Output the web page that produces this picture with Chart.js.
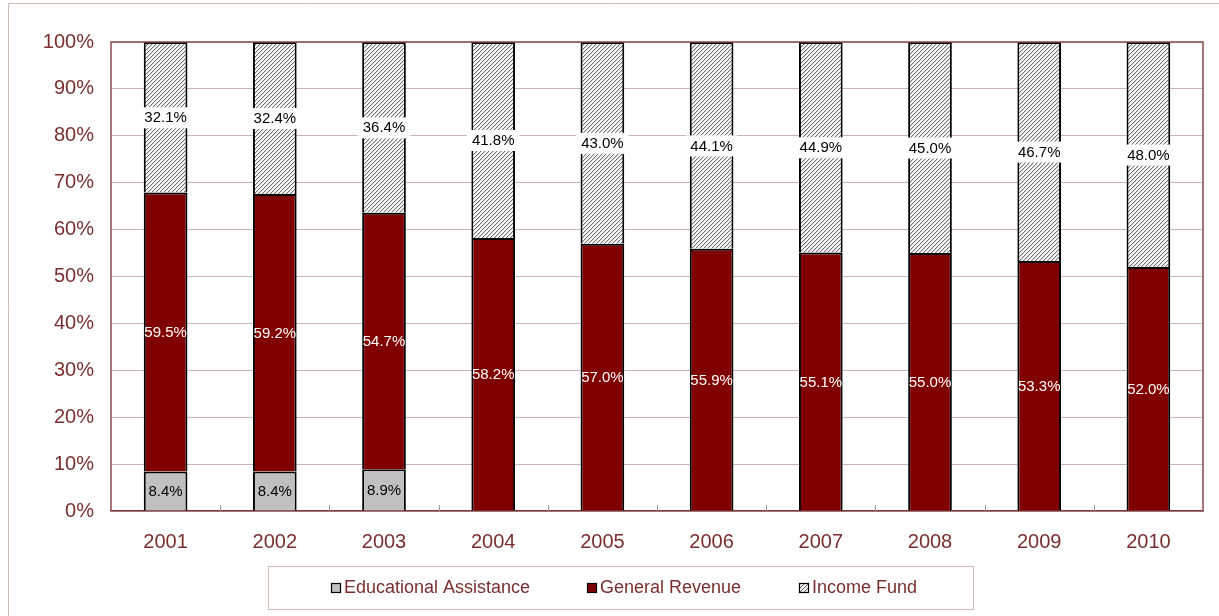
<!DOCTYPE html>
<html>
<head>
<meta charset="utf-8">
<script src="https://cdn.jsdelivr.net/npm/chart.js@4.4.1/dist/chart.umd.min.js"></script>
<style>
  html, body { margin: 0; padding: 0; background: #fff; }
  #wrap { width: 1219px; height: 616px; position: relative; }
</style>
</head>
<body>
<div id="wrap"><canvas id="share-chart" width="1219" height="616"></canvas></div>
<script>
// 数据
const years = ['2001', '2002', '2003', '2004', '2005', '2006', '2007', '2008', '2009', '2010'];
const educationalAssistance = [8.4, 8.4, 8.9, null, null, null, null, null, null, null];
const generalRevenue = [59.5, 59.2, 54.7, 58.2, 57.0, 55.9, 55.1, 55.0, 53.3, 52.0];
const incomeFund = [32.1, 32.4, 36.4, 41.8, 43.0, 44.1, 44.9, 45.0, 46.7, 48.0];
const yTicks = [0, 10, 20, 30, 40, 50, 60, 70, 80, 90, 100];

const axisColor = '#7a2e2e';
const gridColor = '#cbb3b3';
const fontFamily = '"Liberation Sans", Arial, sans-serif';

// 斜线填充图案
function makeHatch() {
    const c = document.createElement('canvas');
    c.width = 4;
    c.height = 4;
    const g = c.getContext('2d');
    g.fillStyle = '#ffffff';
    g.fillRect(0, 0, 4, 4);
    g.fillStyle = '#707070';
    for (let i = 0; i < 4; i++) {
        g.fillRect(i, 3 - i, 1, 1);
    }
    g.fillStyle = '#d4d4d4';
    for (let i = 0; i < 4; i++) {
        g.fillRect(i, (4 - i) % 4, 1, 1);
    }
    return g.createPattern(c, 'repeat');
}

const ctx = document.getElementById('share-chart').getContext('2d');
const hatch = makeHatch();

// 外框、绘图区边框
const framePlugin = {
    id: 'frame',
    beforeDraw(chart) {
        const c = chart.ctx;
        c.save();
        c.strokeStyle = '#d2bcbc';
        c.lineWidth = 1;
        c.beginPath();
        c.moveTo(8.5, 616);
        c.lineTo(8.5, 3.5);
        c.lineTo(1219, 3.5);
        c.stroke();
        c.restore();
    },
    afterDraw(chart) {
        const a = chart.chartArea;
        const c = chart.ctx;
        c.save();
        c.strokeStyle = '#8a4a4a';
        c.lineWidth = 1.5;
        c.beginPath();
        c.moveTo(a.left, a.bottom);
        c.lineTo(a.left, a.top);
        c.lineTo(a.right, a.top);
        c.lineTo(a.right, a.bottom);
        c.stroke();
        // 类别间的小刻度
        const xs = chart.scales.x;
        c.strokeStyle = '#9a9a9a';
        c.lineWidth = 1;
        for (let i = 1; i < years.length; i++) {
            const x = Math.round((xs.getPixelForValue(i - 1) + xs.getPixelForValue(i)) / 2) + 0.5;
            c.beginPath();
            c.moveTo(x, a.bottom - 6);
            c.lineTo(x, a.bottom);
            c.stroke();
        }
        c.restore();
    }
};

// 数据标签
const labelPlugin = {
    id: 'barLabels',
    afterDatasetsDraw(chart) {
        const c = chart.ctx;
        c.save();
        c.font = '15px ' + fontFamily;
        c.textAlign = 'center';
        c.textBaseline = 'middle';
        chart.data.datasets.forEach((ds, di) => {
            const meta = chart.getDatasetMeta(di);
            meta.data.forEach((bar, i) => {
                const v = ds.data[i];
                if (v === null || v === undefined) return;
                const y = (bar.y + bar.base) / 2;
                const text = v.toFixed(1) + '%';
                if (di === 2) {
                    const w = c.measureText(text).width + 10;
                    c.fillStyle = '#ffffff';
                    c.fillRect(bar.x - w / 2, y - 10, w, 21);
                    c.fillStyle = '#000000';
                } else if (di === 1) {
                    c.fillStyle = '#ffffff';
                } else {
                    c.fillStyle = '#000000';
                }
                c.fillText(text, bar.x, y + 1);
            });
        });
        c.restore();
    }
};

// 图例（带边框）
const legendPlugin = {
    id: 'boxLegend',
    afterDraw(chart) {
        const c = chart.ctx;
        c.save();
        c.strokeStyle = '#d2bcbc';
        c.lineWidth = 1;
        c.strokeRect(268.5, 566.5, 705, 43);
        const xs = [331, 587, 799];
        c.font = '18px ' + fontFamily;
        c.textBaseline = 'middle';
        c.textAlign = 'left';
        chart.data.datasets.forEach((ds, i) => {
            const x = xs[i];
            c.fillStyle = ds.backgroundColor;
            c.fillRect(x, 583, 10, 10);
            c.strokeStyle = '#000000';
            c.lineWidth = 1.2;
            c.strokeRect(x + 0.5, 583.5, 9, 9);
            c.fillStyle = axisColor;
            c.fillText(ds.label, x + 13, 588);
        });
        c.restore();
    }
};

new Chart(ctx, {
    type: 'bar',
    data: {
        labels: years,
        datasets: [{
            label: 'Educational Assistance',
            data: educationalAssistance,
            backgroundColor: '#c0c0c0',
            borderColor: '#000000',
            borderWidth: 2
        }, {
            label: 'General Revenue',
            data: generalRevenue,
            backgroundColor: '#800000',
            borderColor: '#000000',
            borderWidth: 2
        }, {
            label: 'Income Fund',
            data: incomeFund,
            backgroundColor: hatch,
            borderColor: '#000000',
            borderWidth: 2
        }]
    },
    options: {
        responsive: false,
        animation: false,
        layout: {
            padding: { left: 0, top: 42, right: 16, bottom: 0 }
        },
        plugins: {
            legend: { display: false },
            tooltip: { enabled: false }
        },
        datasets: {
            bar: {
                categoryPercentage: 1.0,
                barPercentage: 0.4
            }
        },
        scales: {
            x: {
                stacked: true,
                grid: { display: false, drawTicks: false },
                border: { color: '#7a3a3a', width: 1.5 },
                ticks: {
                    color: axisColor,
                    font: { family: fontFamily, size: 20 },
                    padding: 19
                },
                afterFit(scale) { scale.height = 105; }
            },
            y: {
                stacked: true,
                min: 0,
                max: 100,
                afterBuildTicks(scale) {
                    scale.ticks = yTicks.map(v => ({ value: v }));
                },
                grid: { color: gridColor, lineWidth: 1, drawTicks: false },
                border: { display: false },
                ticks: {
                    color: axisColor,
                    font: { family: fontFamily, size: 20 },
                    padding: 17,
                    callback: v => v + '%'
                },
                afterFit(scale) { scale.width = 111; }
            }
        }
    },
    plugins: [framePlugin, labelPlugin, legendPlugin]
});
</script>
</body>
</html>
